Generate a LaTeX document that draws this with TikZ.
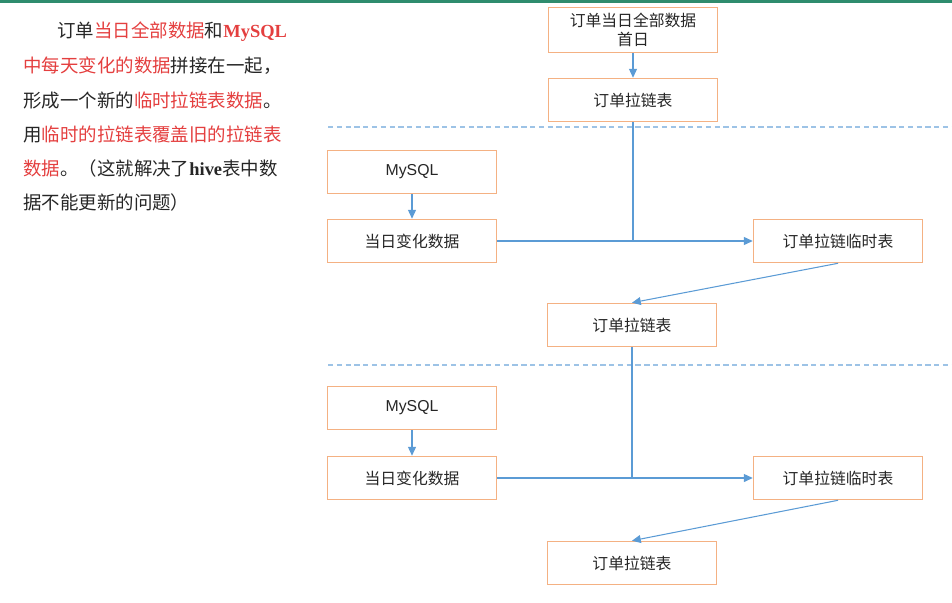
\documentclass[tikz,border=0pt]{standalone}
\usepackage{fontspec}
\setmainfont{Liberation Sans}
\newfontfamily\cjk{Noto Sans CJK SC}
\newfontfamily\latinserif{Liberation Serif}
\usetikzlibrary{arrows.meta}
\definecolor{boxorange}{HTML}{F4B183}
\definecolor{lineblue}{HTML}{5B9BD5}
\definecolor{dashblue}{HTML}{9DC3E6}
\definecolor{textred}{HTML}{E43F3F}
\definecolor{textgray}{HTML}{262626}
\definecolor{topgreen}{HTML}{2F8C6E}
\newcommand{\red}[1]{\textcolor{textred}{#1}}
\newcommand{\lat}[1]{{\latinserif\bfseries #1}}

\begin{document}
\begin{tikzpicture}
  [x=0.02cm,y=-0.02cm,
   box/.style={rectangle,draw=boxorange,line width=0.9pt,minimum width=3.38cm,
     minimum height=0.86cm,inner sep=0pt,align=center,text=textgray,
     font=\cjk\fontsize{9}{11}\selectfont},
   para/.style={anchor=west,inner sep=0pt,text=textgray,
     font=\cjk\fontsize{10.5}{12}\selectfont},
   flow/.style={draw=lineblue,line width=0.6pt,-{Triangle[length=5pt,width=4.5pt]}},
   link/.style={draw=lineblue,line width=0.6pt},
   cut/.style={draw=dashblue,line width=0.6pt,dash pattern=on 3pt off 2pt}]
  \useasboundingbox (0,0) rectangle (952,602);
  \fill[topgreen] (0,0) rectangle (952,2.5);

  % left text
  \node[para] (l1) at (57,32)  {订单\red{当日全部数据}和\red{\lat{MySQL}}};
  \node[para] (l2) at (23,66)  {\red{中每天变化的数据}拼接在一起，};
  \node[para] (l3) at (23,100) {形成一个新的\red{临时拉链表数据}。};
  \node[para] (l4) at (23,134) {用\red{临时的拉链表覆盖旧的拉链表}};
  \node[para] (l5) at (23,168) {\red{数据}。（这就解决了\lat{hive}表中数};
  \node[para] (l6) at (23,202) {据不能更新的问题）};

  % boxes
  \node[box,minimum height=0.9cm] (first) at (633,30) {订单当日全部数据\\首日};
  \node[box] (base1)  at (633,100) {订单拉链表};
  \node[box] (mysql1) at (412,172) {\rmfamily MySQL};
  \node[box] (daily1) at (412,241) {当日变化数据};
  \node[box] (temp1)  at (838,241) {订单拉链临时表};
  \node[box] (base2)  at (632,325) {订单拉链表};
  \node[box] (mysql2) at (412,408) {\rmfamily MySQL};
  \node[box] (daily2) at (412,478) {当日变化数据};
  \node[box] (temp2)  at (838,478) {订单拉链临时表};
  \node[box] (base3)  at (632,563) {订单拉链表};

  \draw[cut] (328,127) -- (952,127);
  \draw[cut] (328,365) -- (952,365);

  \foreach \from/\to in {first/base1, mysql1/daily1, daily1/temp1, temp1.south/base2.north,
                         mysql2/daily2, daily2/temp2, temp2.south/base3.north}
    \draw[flow] (\from) -- (\to);
  \draw[link] (base1) -- (base1 |- daily1);
  \draw[link] (base2) -- (base2 |- daily2);

\end{tikzpicture}
\end{document}
